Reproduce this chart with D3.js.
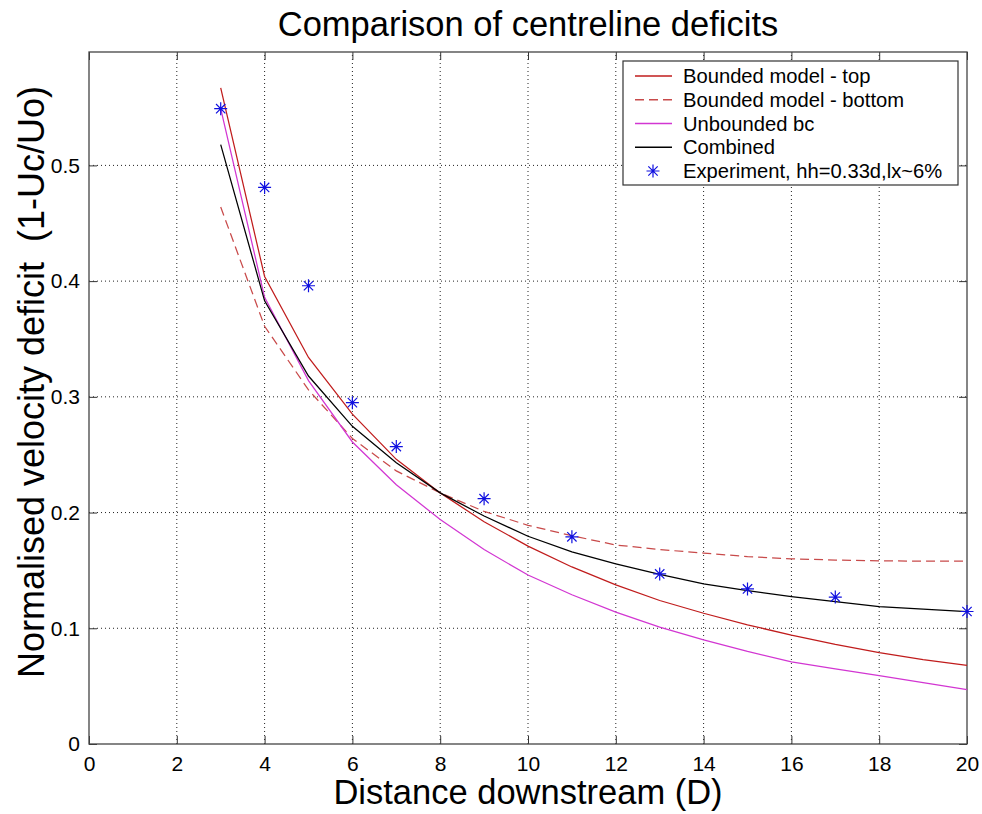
<!DOCTYPE html>
<html>
<head>
<meta charset="utf-8">
<script src="https://cdn.jsdelivr.net/npm/d3@7"></script>
<style>
  body { margin: 0; background: #fff; }
  text { font-family: "Liberation Sans", Arial, sans-serif; }
</style>
</head>
<body>
<div id="chart"></div>
<script>
// model curves, evaluated at whole diameters downstream
const xModel = [3, 4, 5, 6, 7, 8, 9, 10, 11, 12, 13, 14, 15, 16, 17, 18, 19, 20];
const boundedTop = [0.567, 0.404, 0.334, 0.285, 0.246, 0.217, 0.192, 0.171, 0.153, 0.1375, 0.124, 0.113, 0.103, 0.094, 0.086, 0.079, 0.073, 0.068];
const boundedBottom = [0.464, 0.361, 0.306, 0.264, 0.236, 0.217, 0.201, 0.189, 0.180, 0.172, 0.168, 0.165, 0.162, 0.160, 0.159, 0.1583, 0.158, 0.158];
const unbounded = [0.549, 0.386, 0.314, 0.261, 0.224, 0.194, 0.168, 0.146, 0.129, 0.114, 0.101, 0.090, 0.080, 0.071, 0.065, 0.059, 0.053, 0.047];
const combined = [0.518, 0.383, 0.318, 0.2745, 0.243, 0.217, 0.197, 0.1795, 0.166, 0.1557, 0.1465, 0.1384, 0.1325, 0.1274, 0.123, 0.1188, 0.1165, 0.1145];

// experiment points
const xExp = [3, 4, 5, 6, 7, 9, 11, 13, 15, 17, 20];
const yExp = [0.549, 0.481, 0.396, 0.295, 0.257, 0.212, 0.179, 0.147, 0.134, 0.127, 0.1145];

const xTicks = [0, 2, 4, 6, 8, 10, 12, 14, 16, 18, 20];
const yTicks = [0, 0.1, 0.2, 0.3, 0.4, 0.5];

const legendLabels = ["Bounded model - top", "Bounded model - bottom", "Unbounded bc", "Combined", "Experiment, hh=0.33d,lx~6%"];

const width = 982;
const height = 814;
const margin = { top: 52, bottom: 70, left: 89, right: 15 };

const svg = d3.select("#chart")
    .append("svg")
    .attr("width", width)
    .attr("height", height);

const x = d3.scaleLinear()
    .domain([0, 20])
    .range([margin.left, width - margin.right]);

const y = d3.scaleLinear()
    .domain([0, 0.598])
    .range([height - margin.bottom, margin.top]);

const x0 = x(0), x1 = x(20), y0 = y.range()[0], y1 = y.range()[1];

// grid
svg.append("g")
    .selectAll("line")
    .data(xTicks.slice(1, -1))
    .join("line")
    .attr("x1", d => x(d)).attr("x2", d => x(d))
    .attr("y1", y0).attr("y2", y1)
    .attr("stroke", "#222")
    .attr("stroke-dasharray", "1,3");

svg.append("g")
    .selectAll("line")
    .data(yTicks.slice(1))
    .join("line")
    .attr("x1", x0).attr("x2", x1)
    .attr("y1", d => y(d)).attr("y2", d => y(d))
    .attr("stroke", "#222")
    .attr("stroke-dasharray", "1,3");

// axes with inward ticks on all four sides
function xAxis(g) {
    g.attr("transform", `translate(0, ${y0})`)
        .call(d3.axisBottom(x).tickValues(xTicks).tickSizeInner(-8).tickSizeOuter(0).tickPadding(12))
}

function yAxis(g) {
    g.attr("transform", `translate(${x0}, 0)`)
        .call(d3.axisLeft(y).tickValues(yTicks).tickFormat(d => d === 0 ? "0" : d3.format(".1f")(d)).tickSizeInner(-8).tickSizeOuter(0).tickPadding(9))
}

svg.append("g").call(xAxis);
svg.append("g").call(yAxis);

svg.append("g")
    .attr("transform", `translate(0, ${y1})`)
    .call(d3.axisTop(x).tickValues(xTicks).tickSizeInner(-8).tickSizeOuter(0).tickFormat(""));
svg.append("g")
    .attr("transform", `translate(${x1}, 0)`)
    .call(d3.axisRight(y).tickValues(yTicks).tickSizeInner(-8).tickSizeOuter(0).tickFormat(""));

svg.selectAll(".domain").remove();
svg.selectAll(".tick line").attr("stroke", "#333");
svg.selectAll(".tick text")
    .attr("fill", "#000")
    .style("font-size", "21px")
    .style("font-family", "Liberation Sans, Arial, sans-serif");

svg.append("rect")
    .attr("x", x0).attr("y", y1)
    .attr("width", x1 - x0).attr("height", y0 - y1)
    .attr("fill", "none")
    .attr("stroke", "#444")
    .attr("stroke-width", 1.3);

// lines
const series = [
    { values: boundedTop, color: "#c01c1c", dash: null },
    { values: boundedBottom, color: "#c84a4a", dash: "9,5" },
    { values: unbounded, color: "#d236d2", dash: null },
    { values: combined, color: "#000", dash: null }
];

const line = d3.line()
    .x((d, i) => x(xModel[i]))
    .y(d => y(d));

svg.append("g")
    .selectAll("path")
    .data(series)
    .join("path")
    .attr("d", d => line(d.values))
    .attr("fill", "none")
    .attr("stroke", d => d.color)
    .attr("stroke-width", 1.25)
    .attr("stroke-dasharray", d => d.dash);

// star markers
function star(cx, cy, r) {
    const k = r * 0.72;
    return `M${cx - r},${cy}H${cx + r}M${cx},${cy - r}V${cy + r}` +
        `M${cx - k},${cy - k}L${cx + k},${cy + k}M${cx - k},${cy + k}L${cx + k},${cy - k}`;
}

svg.append("g")
    .selectAll("path")
    .data(xExp)
    .join("path")
    .attr("d", (d, i) => star(x(d), y(yExp[i]), 6.5))
    .attr("stroke", "#1010e0")
    .attr("stroke-width", 1.2)
    .attr("fill", "none");

// legend
const lg = svg.append("g").attr("transform", "translate(623, 61)");
lg.append("rect")
    .attr("width", 335).attr("height", 124)
    .attr("fill", "#fff")
    .attr("stroke", "#333")
    .attr("stroke-width", 1.2);

const rowY = d3.scaleLinear().domain([0, 4]).range([15, 110]);

lg.selectAll("line.key")
    .data(series)
    .join("line")
    .attr("class", "key")
    .attr("x1", 12).attr("x2", 49)
    .attr("y1", (d, i) => rowY(i)).attr("y2", (d, i) => rowY(i))
    .attr("stroke", d => d.color)
    .attr("stroke-width", 1.3)
    .attr("stroke-dasharray", d => d.dash);

lg.append("path")
    .attr("d", star(30, rowY(4), 6.5))
    .attr("stroke", "#1010e0")
    .attr("stroke-width", 1.2);

lg.selectAll("text")
    .data(legendLabels)
    .join("text")
    .attr("x", 60)
    .attr("y", (d, i) => rowY(i) + 7)
    .attr("font-size", 20.2)
    .text(d => d);

// title and axis labels
svg.append("text")
    .attr("x", (x0 + x1) / 2)
    .attr("y", 36)
    .attr("text-anchor", "middle")
    .attr("font-size", 34.5)
    .text("Comparison of centreline deficits");

svg.append("text")
    .attr("x", (x0 + x1) / 2)
    .attr("y", 804)
    .attr("text-anchor", "middle")
    .attr("font-size", 34.5)
    .text("Distance downstream (D)");

svg.append("text")
    .attr("transform", `translate(44, 382) rotate(-90)`)
    .attr("text-anchor", "middle")
    .attr("font-size", 36)
    .style("white-space", "pre")
    .text("Normalised velocity deficit  (1-Uc/Uo)");
</script>
</body>
</html>
